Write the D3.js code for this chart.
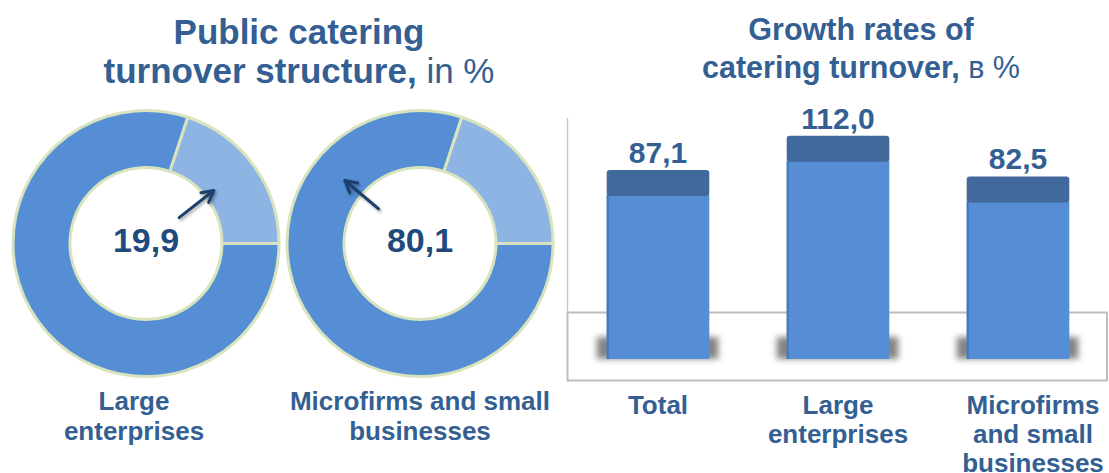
<!DOCTYPE html>
<html><head><meta charset="utf-8">
<script src="https://cdn.jsdelivr.net/npm/d3@7"></script>
<style>
body{margin:0;background:#fff}
svg{display:block}
text{font-family:"Liberation Sans",Arial,Helvetica,sans-serif}
</style>
</head><body>
<svg id="c" width="1109" height="473"></svg>
<script>
// ---------- data ----------
const shareCategories = [["Large","enterprises"],["Microfirms and small","businesses"]];
const shareValues = [19.9, 80.1];           // Large enterprises, Microfirms and small businesses
const shareText = ["19,9","80,1"];
const growthCategories = [["Total"],["Large","enterprises"],["Microfirms","and small","businesses"]];
const growthValues = [87.1, 112.0, 82.5];
const growthText = ["87,1","112,0","82,5"];

// ---------- styles ----------
const titleColor = "#345f92";
const numColor = "#1f4a7e";
const darkBlue = "#558ed5", lightBlue = "#8eb4e3", capBlue = "#41699c";
const ringStroke = "#d7e4bd";

const svg = d3.select("#c");
const defs = svg.append("defs");
const blur = defs.append("filter").attr("id","blur").attr("x","-30%").attr("y","-60%").attr("width","160%").attr("height","220%");
blur.append("feGaussianBlur").attr("stdDeviation",3);
const ds = defs.append("filter").attr("id","ds").attr("x","-50%").attr("y","-50%").attr("width","200%").attr("height","200%");
ds.append("feDropShadow").attr("dx",1.5).attr("dy",2).attr("stdDeviation",1.5).attr("flood-color","#000").attr("flood-opacity",0.35);

// ---------- titles ----------
function title(cx, y1, y2, size, l1, l2b, l2n){
  const t = svg.append("text").attr("text-anchor","middle").attr("fill",titleColor).attr("font-size",size);
  t.append("tspan").attr("x",cx).attr("y",y1).attr("font-weight","bold").text(l1);
  const s = t.append("tspan").attr("x",cx).attr("y",y2);
  s.append("tspan").attr("font-weight","bold").text(l2b);
  s.append("tspan").attr("font-weight","normal").text(l2n);
}
title(299, 44, 83, 35, "Public catering", "turnover structure,", " in %");
title(861, 40, 78, 30.5, "Growth rates of", "catering turnover,", " в %");

// ---------- donuts ----------
const donutCenters = [[146,243.5],[420,243.5]];
const pie = d3.pie().sort(null).value(d=>d.v)
  .startAngle(Math.PI/2).endAngle(Math.PI/2 + 2*Math.PI);
const arc = d3.arc().innerRadius(76).outerRadius(133);
const pieData = pie([{k:1, v:shareValues[1]},{k:0, v:shareValues[0]}]);
const arrowSpec = [ {a:52, r0:42, r1:86}, {a:-50, r0:54, r1:98} ];
const labelOffset = [-12, 0];

donutCenters.forEach((c, i) => {
  const g = svg.append("g").attr("transform",`translate(${c[0]},${c[1]})`);
  g.selectAll("path.seg").data(pieData).join("path").attr("class","seg")
    .attr("d",arc)
    .attr("fill",d=>d.data.k===1?darkBlue:lightBlue)
    .attr("stroke",ringStroke).attr("stroke-width",3).attr("stroke-linejoin","round");
  // arrow
  const sp = arrowSpec[i], a = sp.a*Math.PI/180;
  const x0 = sp.r0*Math.sin(a), y0 = -sp.r0*Math.cos(a);
  const x1 = sp.r1*Math.sin(a), y1 = -sp.r1*Math.cos(a);
  const ang = Math.atan2(y1-y0, x1-x0), hl = 13, ha = 0.5;
  const head = `M${x1-hl*Math.cos(ang-ha)},${y1-hl*Math.sin(ang-ha)}L${x1},${y1}L${x1-hl*Math.cos(ang+ha)},${y1-hl*Math.sin(ang+ha)}`;
  const ag = g.append("g").attr("filter","url(#ds)").attr("stroke","#1f3f6e").attr("stroke-width",3)
    .attr("fill","none").attr("stroke-linecap","round").attr("stroke-linejoin","round");
  ag.append("line").attr("x1",x0).attr("y1",y0).attr("x2",x1).attr("y2",y1);
  ag.append("path").attr("d",head);
  // value
  g.append("text").attr("text-anchor","middle").attr("x",0).attr("y",8.5)
    .attr("font-size",34).attr("font-weight","bold").attr("fill",numColor).text(shareText[i]);
  // category label
  const t = svg.append("text").attr("text-anchor","middle").attr("fill",titleColor)
    .attr("font-size",26).attr("font-weight","bold");
  shareCategories[i].forEach((line,j)=>{
    t.append("tspan").attr("x",c[0]+labelOffset[i]).attr("y",410+30*j).text(line);
  });
});

// ---------- bar chart ----------
const x = d3.scaleBand().domain(d3.range(growthValues.length)).range([568,1108])
  .paddingInner(0.43).paddingOuter(0.215);
const y = d3.scaleLinear().domain([0,100]).range([315,177.3]);
const floorTop = 312, floorBottom = 380, frontBase = 359, capH = 25;
const catLabelShift = [0, 0, 15];

// wall + floor
svg.append("line").attr("x1",567.5).attr("x2",567.5).attr("y1",118).attr("y2",floorTop)
  .attr("stroke","#c8c8c8").attr("stroke-width",1.5);
svg.append("rect").attr("x",567.5).attr("y",floorTop+0.5).attr("width",539.5).attr("height",floorBottom-floorTop)
  .attr("fill","none").attr("stroke","#bdbdbd").attr("stroke-width",2);

const bars = svg.append("g").selectAll("g").data(growthValues).join("g");
// shadows
bars.append("rect")
  .attr("x",(d,i)=>x(i)-10).attr("width",x.bandwidth()+19)
  .attr("y",frontBase-22).attr("height",22)
  .attr("fill","#6e6e6e").attr("opacity",0.85).attr("filter","url(#blur)");
// front face
bars.append("rect")
  .attr("x",(d,i)=>x(i)).attr("width",x.bandwidth())
  .attr("y",d=>y(d)).attr("height",d=>frontBase-y(d))
  .attr("fill",darkBlue);
bars.append("rect")
  .attr("x",(d,i)=>x(i)).attr("width",2)
  .attr("y",d=>y(d)).attr("height",d=>frontBase-y(d))
  .attr("fill","#4677b8");
// top face
bars.append("rect")
  .attr("x",(d,i)=>x(i)).attr("width",x.bandwidth())
  .attr("y",d=>y(d)-capH).attr("height",capH+1).attr("rx",3)
  .attr("fill",capBlue);
// value labels
bars.append("text").attr("text-anchor","middle")
  .attr("x",(d,i)=>x(i)+x.bandwidth()/2).attr("y",d=>y(d)-capH-7)
  .attr("font-size",30).attr("font-weight","bold").attr("fill",titleColor)
  .text((d,i)=>growthText[i]);

// category labels
growthCategories.forEach((lines,i)=>{
  const t = svg.append("text").attr("text-anchor","middle").attr("fill",titleColor)
    .attr("font-size",26).attr("font-weight","bold");
  const cx = x(i)+x.bandwidth()/2 + catLabelShift[i];
  lines.forEach((line,j)=>t.append("tspan").attr("x",cx).attr("y",414+29*j).text(line));
});
</script>
</body></html>
